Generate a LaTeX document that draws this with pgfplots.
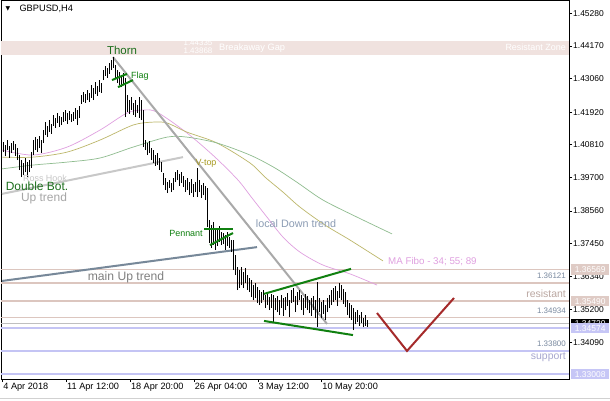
\documentclass[border=0pt]{standalone}
\usepackage{fontspec}
\setmainfont{Liberation Sans}
\newfontfamily\symfont{DejaVu Sans}
\usepackage{pgfplots}
\usepackage{pgfplotstable}
\pgfplotsset{compat=1.18}

\definecolor{bandcol}{HTML}{F0E2DF}
\definecolor{rescol}{HTML}{DCC6BF}
\definecolor{supcol}{HTML}{C4C4F4}
\definecolor{mapink}{HTML}{E0A0E0}
\definecolor{maolive}{HTML}{BDB76B}
\definecolor{magreen}{HTML}{8FBC8F}
\definecolor{upgray}{HTML}{C8C8C8}
\definecolor{dngray}{HTML}{A9A9A9}
\definecolor{slate}{HTML}{778899}
\definecolor{patgreen}{HTML}{108010}
\definecolor{txtgreen}{HTML}{1C6E1C}
\definecolor{vtop}{HTML}{A89A20}
\definecolor{lbltxt}{HTML}{7A8AA0}
\definecolor{ldown}{HTML}{8C9CB4}
\definecolor{redzz}{HTML}{A52A2A}
\definecolor{boxres}{HTML}{DFCBC5}
\definecolor{boxsup}{HTML}{C6C6F6}

% H4 bars: x = bar position, lo/hi = low and high price
\pgfplotstableread{
x lo hi
3 1.4056 1.4090
5 1.4043 1.4080
7 1.4063 1.4097
9 1.4036 1.4077
11 1.4053 1.4087
13 1.4063 1.4094
15 1.4043 1.4084
17 1.4029 1.4070
19 1.3995 1.4046
21 1.3971 1.4029
23 1.3978 1.4019
25 1.3988 1.4036
27 1.3971 1.4022
29 1.3988 1.4029
31 1.4002 1.4056
33 1.4046 1.4097
35 1.4063 1.4107
37 1.4056 1.4100
39 1.4070 1.4110
41 1.4053 1.4097
43 1.4087 1.4131
45 1.4114 1.4158
47 1.4107 1.4145
49 1.4124 1.4165
51 1.4118 1.4151
53 1.4145 1.4182
55 1.4138 1.4172
57 1.4155 1.4189
59 1.4141 1.4179
61 1.4148 1.4175
63 1.4158 1.4192
65 1.4162 1.4199
67 1.4151 1.4189
69 1.4165 1.4196
71 1.4158 1.4186
73 1.4162 1.4192
75 1.4169 1.4206
77 1.4148 1.4199
79 1.4172 1.4213
81 1.4220 1.4250
83 1.4226 1.4260
85 1.4223 1.4253
87 1.4233 1.4267
89 1.4226 1.4257
91 1.4240 1.4284
93 1.4233 1.4274
95 1.4253 1.4294
97 1.4247 1.4281
99 1.4260 1.4301
101 1.4257 1.4291
103 1.4301 1.4335
105 1.4315 1.4349
107 1.4308 1.4342
109 1.4322 1.4359
111 1.4335 1.4369
113 1.4342 1.4379
115 1.4308 1.4352
117 1.4291 1.4335
119 1.4284 1.4328
121 1.4277 1.4318
123 1.4287 1.4325
125 1.4175 1.4308
127 1.4192 1.4250
129 1.4186 1.4233
131 1.4199 1.4243
133 1.4182 1.4223
135 1.4175 1.4233
137 1.4189 1.4216
139 1.4172 1.4243
141 1.4165 1.4233
143 1.4073 1.4199
145 1.4063 1.4097
147 1.4046 1.4087
149 1.4053 1.4094
151 1.4029 1.4070
153 1.4019 1.4063
155 1.4009 1.4046
157 1.4012 1.4053
159 1.3995 1.4036
161 1.3988 1.4022
163 1.3944 1.3985
165 1.3927 1.3968
167 1.3917 1.3954
169 1.3934 1.3961
171 1.3920 1.3951
173 1.3927 1.3968
175 1.3954 1.3988
177 1.3961 1.3995
179 1.3941 1.3982
181 1.3951 1.3988
183 1.3937 1.3975
185 1.3920 1.3961
187 1.3927 1.3968
189 1.3910 1.3954
191 1.3917 1.3965
193 1.3903 1.3948
195 1.3920 1.3954
197 1.3903 1.4002
199 1.3920 1.3961
201 1.3900 1.3944
203 1.3910 1.3951
205 1.3893 1.3941
207 1.3801 1.3934
209 1.3747 1.3825
211 1.3730 1.3808
213 1.3740 1.3818
215 1.3723 1.3798
217 1.3737 1.3791
219 1.3750 1.3805
221 1.3740 1.3784
223 1.3743 1.3781
225 1.3723 1.3774
227 1.3737 1.3784
229 1.3730 1.3767
231 1.3716 1.3757
233 1.3655 1.3757
235 1.3638 1.3706
237 1.3587 1.3665
239 1.3594 1.3655
241 1.3604 1.3665
243 1.3594 1.3648
245 1.3611 1.3662
247 1.3587 1.3638
249 1.3580 1.3628
251 1.3563 1.3621
253 1.3553 1.3604
255 1.3560 1.3611
257 1.3543 1.3597
259 1.3536 1.3587
261 1.3543 1.3580
263 1.3553 1.3587
265 1.3526 1.3570
267 1.3536 1.3577
269 1.3519 1.3563
271 1.3526 1.3573
273 1.3478 1.3570
275 1.3519 1.3560
277 1.3512 1.3567
279 1.3502 1.3553
281 1.3526 1.3570
283 1.3499 1.3560
285 1.3519 1.3563
287 1.3533 1.3577
289 1.3495 1.3553
291 1.3543 1.3587
293 1.3546 1.3594
295 1.3512 1.3567
297 1.3536 1.3580
299 1.3553 1.3587
301 1.3519 1.3570
303 1.3502 1.3560
305 1.3526 1.3573
307 1.3519 1.3567
309 1.3509 1.3553
311 1.3499 1.3560
313 1.3519 1.3567
315 1.3492 1.3553
317 1.3461 1.3614
319 1.3512 1.3560
321 1.3492 1.3546
323 1.3506 1.3553
325 1.3485 1.3536
327 1.3512 1.3560
329 1.3526 1.3570
331 1.3536 1.3587
333 1.3546 1.3594
335 1.3553 1.3601
337 1.3533 1.3584
339 1.3560 1.3611
341 1.3553 1.3604
343 1.3540 1.3590
345 1.3529 1.3580
347 1.3502 1.3553
349 1.3492 1.3543
351 1.3485 1.3536
353 1.3451 1.3526
355 1.3471 1.3512
357 1.3478 1.3519
359 1.3465 1.3502
361 1.3475 1.3512
363 1.3461 1.3492
365 1.3465 1.3502
367 1.3461 1.3485
}\bars

\newcommand\fs[1]{\fontsize{#1}{#1}\selectfont}

\begin{document}
\begin{tikzpicture}[x=1bp,y=1bp]
\useasboundingbox (0,0) rectangle (610,400);
\fill[white] (0,0) rectangle (610,400);
\draw[black!18, line width=1.5bp] (0,1.5) -- (610,1.5);
\begin{axis}[
    at={(1bp,21bp)}, anchor=south west,
    scale only axis, width=568bp, height=378bp,
    xmin=1, xmax=569, ymin=1.32846, ymax=1.45698,
    clip=false,
    axis line style={black, line width=1bp},
    tick align=outside, major tick length=3bp,
    tick style={black, line width=0.8bp},
    xtick pos=bottom, ytick pos=right, yticklabel pos=right,
    xtick={2.7,66.5,130.3,194.1,257.9,321.7},
    xticklabels={4 Apr 2018, 11 Apr 12:00, 18 Apr 20:00, 26 Apr 04:00, 3 May 12:00, 10 May 20:00},
    xticklabel style={anchor=north west, inner sep=0pt, xshift=0.5bp, yshift=-1bp, font=\fs{9.2}},
    ytick={1.34090,1.35200,1.36340,1.37450,1.38560,1.39700,1.40810,1.41920,1.43060,1.44170,1.45280},
    yticklabel style={anchor=west, inner sep=0pt, xshift=1bp, font=\fs{8.5},
        /pgf/number format/.cd, fixed, fixed zerofill, precision=5, assume math mode=true},
    scaled y ticks=false,
]
% breakaway gap / resistant zone band
\addplot[fill=bandcol, draw=none] coordinates {(1,1.43868)(569,1.43868)(569,1.44335)(1,1.44335)} -- cycle;
% horizontal levels
\addplot[rescol, line width=1.8bp] coordinates {(1,1.36569)(569,1.36569)};
\addplot[rescol, line width=1.8bp] coordinates {(1,1.36121)(569,1.36121)};
\addplot[rescol, line width=1.8bp] coordinates {(1,1.35490)(569,1.35490)};
\addplot[rescol, line width=1.8bp] coordinates {(1,1.34934)(569,1.34934)};
\addplot[black!25, line width=0.8bp] coordinates {(1,1.3472)(569,1.3472)};
\addplot[supcol, line width=1.8bp] coordinates {(1,1.34574)(569,1.34574)};
\addplot[supcol, line width=1.8bp] coordinates {(1,1.33800)(569,1.33800)};
\addplot[supcol, line width=1.8bp] coordinates {(1,1.33008)(569,1.33008)};
% MA Fibo 34, 55, 89
\addplot[mapink, line width=0.7bp, smooth] coordinates {(2,1.4063)(33,1.4046)(67,1.4073)(100,1.4131)(127,1.4189)(143,1.4199)(157,1.4192)(187,1.4121)(215,1.4039)(238,1.3961)(252,1.3900)(267,1.3835)(283,1.3767)(300,1.3716)(323,1.3672)(350,1.3642)(377,1.3604)};
\addplot[maolive, line width=0.7bp, smooth] coordinates {(2,1.4039)(33,1.4039)(67,1.4056)(100,1.4097)(133,1.4148)(153,1.4158)(167,1.4155)(187,1.4124)(217,1.4087)(250,1.4019)(265,1.3971)(283,1.3920)(300,1.3869)(325,1.3808)(350,1.3757)(383,1.3686)};
\addplot[magreen, line width=0.7bp, smooth] coordinates {(2,1.3999)(33,1.4012)(67,1.4022)(100,1.4036)(133,1.4073)(167,1.4107)(187,1.4107)(217,1.4087)(250,1.4046)(275,1.4002)(298,1.3951)(323,1.3893)(357,1.3835)(392,1.3778)};
% trend lines
\addplot[upgray, line width=2bp] coordinates {(2,1.3914)(183,1.4039)};
\addplot[dngray, line width=2bp] coordinates {(113,1.4379)(327,1.3472)};
\addplot[slate, line width=2bp] coordinates {(2,1.3618)(257,1.3733)};
% price bars
\addplot[draw=none, mark=none, forget plot,
    error bars/.cd, y dir=plus, y explicit, error mark=none,
    error bar style={draw=black, line width=0.95bp}]
    table[x=x, y=lo, y error expr=\thisrow{hi}-\thisrow{lo}] {\bars};
% patterns
\addplot[patgreen, line width=2bp] coordinates {(112,1.4301)(127,1.4322)};
\addplot[patgreen, line width=2bp] coordinates {(118,1.4277)(133,1.4301)};
\addplot[patgreen, line width=2bp] coordinates {(204,1.3795)(233,1.3795)};
\addplot[patgreen, line width=2bp] coordinates {(210,1.3740)(233,1.3781)};
\addplot[patgreen, line width=2bp] coordinates {(264,1.3574)(351,1.3659)};
\addplot[patgreen, line width=2bp] coordinates {(264,1.3482)(353,1.3434)};
% projected move
\addplot[redzz, line width=2bp] coordinates {(377,1.3509)(407,1.3380)(454,1.3560)};

% texts
\node[anchor=west, font=\fs{9.3}] at (axis cs:16,1.4543) {GBPUSD,H4};
\node[font=\symfont\fs{6}] at (axis cs:8,1.4543) {▼};
\node[text=white, font=\fs{8}, inner sep=0pt] at (axis cs:198,1.4427) {1.44335};
\node[text=white, font=\fs{8}, inner sep=0pt] at (axis cs:198,1.4401) {1.43868};
\node[text=white, anchor=west, font=\fs{9.3}, inner sep=0pt] at (axis cs:219,1.4410) {Breakaway Gap};
\node[text=white, anchor=east, font=\fs{9}, inner sep=0pt] at (axis cs:566,1.4413) {Resistant Zone};
\node[text=txtgreen, font=\fs{11.5}, inner sep=0pt] at (axis cs:122,1.4403) {Thorn};
\node[text=patgreen, anchor=west, font=\fs{9}, inner sep=0pt] at (axis cs:131,1.4315) {Flag};
\node[text=black!22, font=\fs{9}, inner sep=0pt] at (axis cs:45,1.3968) {Ross Hook};
\node[text=txtgreen, font=\fs{12}, inner sep=0pt] at (axis cs:37,1.3941) {Double Bot.};
\node[text=black!35, font=\fs{12}, inner sep=0pt] at (axis cs:44,1.3897) {Up trend};
\node[text=vtop, font=\fs{9}, inner sep=0pt] at (axis cs:206,1.4019) {V-top};
\node[text=patgreen, font=\fs{9}, inner sep=0pt] at (axis cs:186,1.3778) {Pennant};
\node[text=ldown, font=\fs{10.8}, inner sep=0pt] at (axis cs:296,1.3812) {local Down trend};
\node[text=black!50, font=\fs{12.2}, inner sep=0pt] at (axis cs:126,1.3631) {main Up trend};
\node[text=mapink, anchor=west, font=\fs{9.8}, inner sep=0pt] at (axis cs:388,1.3683) {MA Fibo - 34; 55; 89};
\node[text=lbltxt, anchor=east, font=\fs{8}, inner sep=0pt] at (axis cs:566,1.3635) {1.36121};
\node[text=rescol!85!black, anchor=east, font=\fs{10.5}, inner sep=0pt] at (axis cs:566,1.3576) {resistant};
\node[text=lbltxt, anchor=east, font=\fs{8}, inner sep=0pt] at (axis cs:566,1.3516) {1.34934};
\node[text=lbltxt, anchor=east, font=\fs{8}, inner sep=0pt] at (axis cs:566,1.3404) {1.33800};
\node[text=supcol!85!black, anchor=east, font=\fs{10.5}, inner sep=0pt] at (axis cs:566,1.3360) {support};

\coordinate (q1) at (axis cs:569,1.36569);
\coordinate (q2) at (axis cs:569,1.35490);
\coordinate (q3) at (axis cs:569,1.3472);
\coordinate (q4) at (axis cs:569,1.34574);
\coordinate (q5) at (axis cs:569,1.33008);
\end{axis}
\tikzset{pricebox/.style={anchor=west, text=white, minimum width=38bp, minimum height=10.5bp, inner sep=0.5bp, font=\fs{8.5}}}
\node[pricebox, fill=boxres] at ([xshift=2bp]q1) {1.36569};
\node[pricebox, fill=boxres] at ([xshift=2bp]q2) {1.35490};
\node[pricebox, fill=black] at ([xshift=2bp]q3) {1.34720};
\node[pricebox, fill=boxsup] at ([xshift=2bp]q4) {1.34574};
\node[pricebox, fill=boxsup] at ([xshift=2bp]q5) {1.33008};
\end{tikzpicture}
\end{document}
